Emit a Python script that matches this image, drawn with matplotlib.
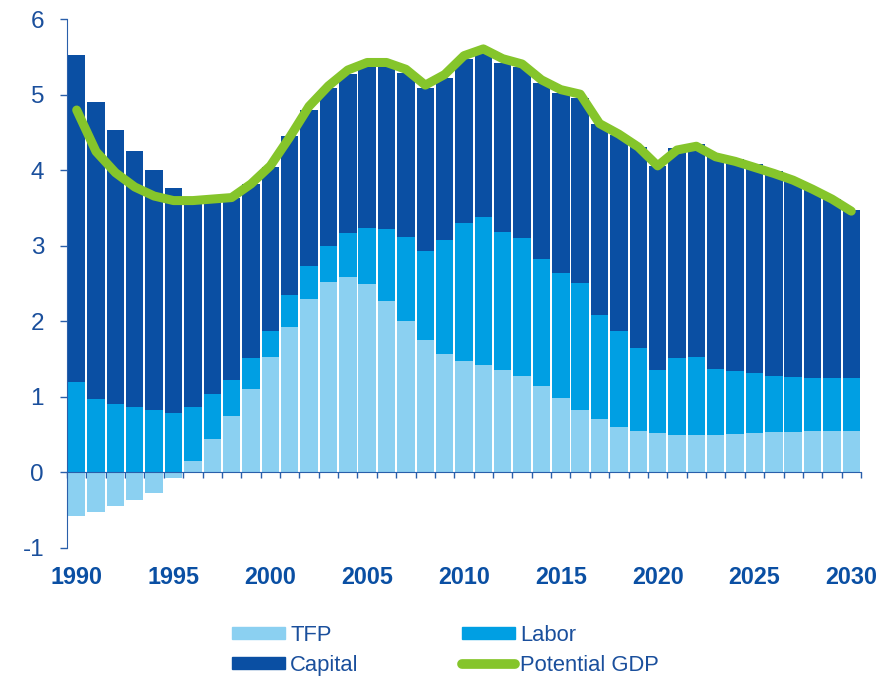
import numpy as np
import matplotlib.pyplot as plt
from matplotlib.patches import Patch
from matplotlib.lines import Line2D
import matplotlib.transforms as mtransforms

years = np.arange(1990, 2031)
tfp = [-0.58, -0.53, -0.45, -0.37, -0.27, -0.08, 0.15, 0.44, 0.74, 1.10,
       1.53, 1.93, 2.29, 2.52, 2.59, 2.50, 2.27, 2.00, 1.75, 1.57,
       1.47, 1.42, 1.36, 1.27, 1.14, 0.99, 0.82, 0.70, 0.60, 0.55,
       0.52, 0.50, 0.49, 0.50, 0.51, 0.52, 0.53, 0.53, 0.54, 0.54, 0.54]
labor = [1.20, 0.97, 0.90, 0.86, 0.82, 0.78, 0.71, 0.60, 0.48, 0.42,
         0.34, 0.42, 0.44, 0.48, 0.58, 0.74, 0.95, 1.12, 1.18, 1.51,
         1.83, 1.96, 1.83, 1.83, 1.69, 1.65, 1.69, 1.39, 1.27, 1.09,
         0.84, 1.02, 1.04, 0.87, 0.83, 0.79, 0.75, 0.73, 0.71, 0.71, 0.71]
capital = [4.33, 3.93, 3.64, 3.40, 3.19, 2.99, 2.72, 2.56, 2.42, 2.30,
           2.18, 2.10, 2.07, 2.09, 2.11, 2.14, 2.16, 2.17, 2.16, 2.15,
           2.17, 2.17, 2.23, 2.27, 2.33, 2.38, 2.45, 2.53, 2.60, 2.67,
           2.70, 2.78, 2.82, 2.81, 2.81, 2.77, 2.71, 2.61, 2.50, 2.37, 2.23]
potential_gdp = [4.80, 4.25, 3.97, 3.78, 3.66, 3.60, 3.60, 3.62, 3.64, 3.82,
                 4.06, 4.44, 4.85, 5.12, 5.33, 5.43, 5.43, 5.34, 5.13, 5.27,
                 5.52, 5.61, 5.48, 5.41, 5.20, 5.07, 5.01, 4.62, 4.48, 4.31,
                 4.06, 4.27, 4.32, 4.18, 4.12, 4.04, 3.96, 3.87, 3.75, 3.62, 3.46]

c_tfp = '#8BD0F1'
c_lab = '#009FE3'
c_cap = '#0A4FA3'
c_gdp = '#85C52B'
c_txt = '#1A4F9C'

plt.rcParams['font.family'] = 'Liberation Sans'

fig = plt.figure(figsize=(8.91, 6.76), dpi=100)
ax = fig.add_axes([0.0752, 0.1898, 0.8911, 0.7814])

tfp = np.array(tfp)
labor = np.array(labor)
capital = np.array(capital)
base = np.maximum(tfp, 0)
w = 0.9
ax.bar(years, tfp, width=w, color=c_tfp, zorder=2)
ax.bar(years, labor, bottom=base, width=w, color=c_lab, zorder=2)
ax.bar(years, capital, bottom=base + labor, width=w, color=c_cap, zorder=2)
ax.plot(years, potential_gdp, color=c_gdp, lw=6.5, solid_capstyle='round',
        solid_joinstyle='round', zorder=3)

ax.set_xlim(1989.5, 2030.5)
ax.set_ylim(-1, 6)
ax.set_yticks(range(-1, 7))
ax.set_yticklabels(['-1', '0', '1', '2', '3', '4', '5', '6'])

for s in ['top', 'right']:
    ax.spines[s].set_visible(False)
ax.spines['bottom'].set_position(('data', 0))
ax.spines['bottom'].set_color('#2A5FAA')
ax.spines['left'].set_color('#2A5FAA')
ax.spines['bottom'].set_zorder(4)

ax.set_xticks(np.arange(1989.5, 2031, 1))
ax.set_xticklabels([])
ax.tick_params(axis='x', direction='out', length=4.5, color='#2A5FAA', width=1)
ax.tick_params(axis='y', direction='out', length=5, color='#2A5FAA', width=1,
               labelsize=17.5, labelcolor=c_txt, pad=11.5)

trans = mtransforms.blended_transform_factory(ax.transData, ax.transAxes)
for y in range(1990, 2031, 5):
    ax.text(y, -0.057, str(y), transform=trans, ha='center', va='center',
            fontsize=16.8, fontweight='bold', color=c_cap)

handles = [Patch(color=c_tfp), Patch(color=c_cap), Patch(color=c_lab),
           Line2D([], [], color=c_gdp, lw=7, solid_capstyle='round')]
labels = ['TFP', 'Capital', 'Labor', 'Potential GDP']
leg = fig.legend(handles, labels, ncol=2, loc='center', bbox_to_anchor=(0.5, 0.038),
                 frameon=False, fontsize=15.8, handlelength=2.4, handleheight=0.5,
                 handletextpad=0.25, columnspacing=4.7, labelspacing=0.4)
for t in leg.get_texts():
    t.set_color(c_txt)

plt.savefig('out.png', dpi=100)
